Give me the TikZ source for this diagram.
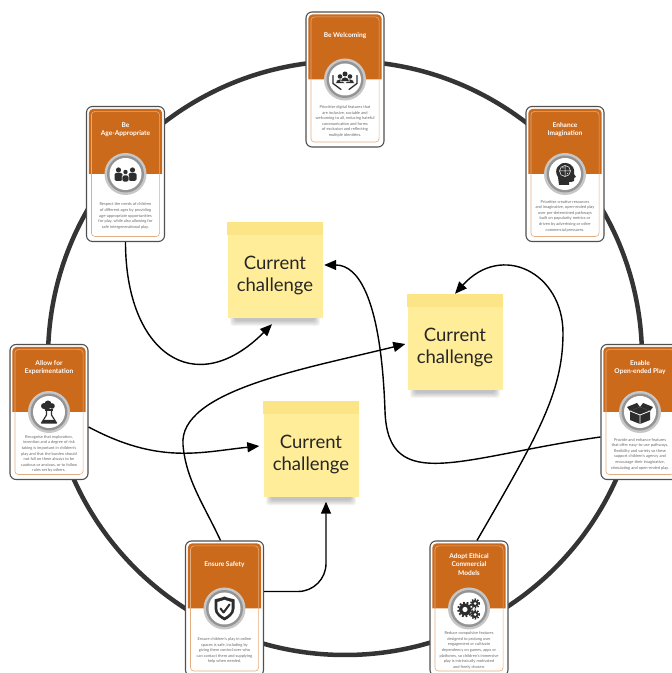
\documentclass[tikz,border=0pt]{standalone}
\usepackage{fontspec}
\setmainfont{Lato}
\usepackage{tikz}
\usetikzlibrary{
    calc,
    arrows.meta
}
\definecolor{cardorange}{RGB}{204,106,28}
\definecolor{cardline}{RGB}{80,80,80}
\definecolor{ringgray}{RGB}{52,52,52}
\definecolor{icongray}{RGB}{45,45,45}
\definecolor{textgray}{RGB}{105,105,105}
\definecolor{stickyfill}{RGB}{255,237,153}
\definecolor{stickytop}{RGB}{252,229,135}
\tikzset{
    >={Triangle[length=12pt,width=10pt]},
    card/.style={draw=cardline, line width=1.1pt, fill=white, rounded corners=6pt,
        minimum width=78pt, minimum height=135pt, inner sep=0pt},
    cardtitle/.style={text=white, font=\fontsize{6.6}{8.3}\selectfont\bfseries, align=center, inner sep=0pt},
    carddesc/.style={text=textgray, font=\fontsize{4}{5.6}\selectfont, align=center, inner sep=0pt},
    sticky/.style={fill=stickyfill, minimum width=95pt, minimum height=96pt, inner sep=0pt},
    stickyshade/.style={black, opacity=0.045, rounded corners=3pt},
    stickytext/.style={font=\fontsize{18.5}{22}\selectfont, align=center, text=black!85, inner sep=0pt},
    link/.style={->, line width=1.4pt}
}

\begin{document}
\begin{tikzpicture}[x=1pt, y=1pt]
        \clip (0,0) rectangle (672,673);
        \draw[ringgray, line width=4.5pt] (345,315) circle (297);

        % principle cards
        \foreach \nm/\cx/\cy in {welcome/345/593.5, age/125.5/499, imag/565/499, exper/49/261,
                open/640/261, safety/224.5/64.5, ethical/469/64.5}{
            \node[card] (\nm) at (\cx,\cy) {};
            \fill[cardorange] ([xshift=3pt]\nm.west) [rounded corners=4pt] -- ([shift={(3pt,-3pt)}]\nm.north west)
                -- ([shift={(-3pt,-3pt)}]\nm.north east) [sharp corners] -- ([xshift=-3pt]\nm.east) -- cycle;
            \draw[cardorange!55!white, line width=0.6pt, rounded corners=3.5pt]
                ([shift={(5.5pt,-5.5pt)}]\nm.north west) rectangle ([shift={(-5.5pt,5.5pt)}]\nm.south east);
            \fill[black!22] (\nm) circle (21);
            \fill[black!42] (\nm) circle (18.5);
            \fill[white] (\nm) circle (16);
        }

        \node[cardtitle] (welcome-title) at ([yshift=-24pt]welcome.north) {Be Welcoming};
        \node[cardtitle] (age-title) at ([yshift=-24pt]age.north) {Be\\Age-Appropriate};
        \node[cardtitle] (imag-title) at ([yshift=-24pt]imag.north) {Enhance\\Imagination};
        \node[cardtitle] (exper-title) at ([yshift=-24pt]exper.north) {Allow for\\Experimentation};
        \node[cardtitle] (open-title) at ([yshift=-24pt]open.north) {Enable\\Open-ended Play};
        \node[cardtitle] (safety-title) at ([yshift=-24pt]safety.north) {Ensure Safety};
        \node[cardtitle] (ethical-title) at ([yshift=-24pt]ethical.north) {Adopt Ethical\\Commercial\\Models};

        \node[carddesc] (welcome-text) at ([yshift=-110pt]welcome.north) {Prioritise digital features that\\are inclusive, sociable and\\welcoming to all, reducing hateful\\communication and forms\\of exclusion and reflecting\\multiple identities.};
        \node[carddesc] (age-text) at ([yshift=-110pt]age.north) {Respect the needs of children\\of different ages by providing\\age-appropriate opportunities\\for play, while also allowing for\\safe intergenerational play.};
        \node[carddesc] (imag-text) at ([yshift=-110pt]imag.north) {Prioritise creative resources\\and imaginative, open-ended play\\over pre-determined pathways\\built on popularity metrics or\\driven by advertising or other\\commercial pressures.};
        \node[carddesc] (exper-text) at ([yshift=-110pt]exper.north) {Recognise that exploration,\\invention and a degree of risk\\taking is important in children's\\play and that the burden should\\not fall on them always to be\\cautious or anxious, or to follow\\rules set by others.};
        \node[carddesc] (open-text) at ([yshift=-110pt]open.north) {Provide and enhance features\\that offer easy-to-use pathways,\\flexibility and variety so these\\support children's agency and\\encourage their imaginative,\\stimulating and open-ended play.};
        \node[carddesc] (safety-text) at ([yshift=-110pt]safety.north) {Ensure children's play in online\\spaces is safe, including by\\giving them control over who\\can contact them and supplying\\help when needed.};
        \node[carddesc] (ethical-text) at ([yshift=-110pt]ethical.north) {Reduce compulsive features\\designed to prolong user\\engagement or cultivate\\dependency on games, apps or\\platforms, so children's immersive\\play is intrinsically motivated\\and freely chosen.};

        % icons
        \begin{scope}[shift={(welcome)}, icongray]
            \fill (-5,3) circle (2.3) (5,3) circle (2.3) (0,5.5) circle (2.5);
            \fill[draw=white, line width=0.5pt] (-9.5,-4) arc[start angle=180, end angle=0, radius=4.5] -- cycle;
            \fill[draw=white, line width=0.5pt] (0.5,-4) arc[start angle=180, end angle=0, radius=4.5] -- cycle;
            \fill[draw=white, line width=0.5pt] (-4.5,-2) arc[start angle=180, end angle=0, radius=4.5] -- cycle;
            \draw[line width=1.3pt, line cap=round, line join=round] (-12,4) -- (-12,-4) -- (-4,-10) (12,4) -- (12,-4) -- (4,-10);
        \end{scope}
        \begin{scope}[shift={(age)}, icongray]
            \fill (-7,4) circle (2.6) (7,4) circle (2.6) (0,2) circle (2.2);
            \fill[rounded corners=1.5pt] (-11,-7) rectangle (-3,1) (3,-7) rectangle (11,1);
            \fill[rounded corners=1.5pt, draw=white, line width=0.6pt] (-3.4,-8) rectangle (3.4,-1);
        \end{scope}
        \begin{scope}[shift={(imag)}, icongray]
            \fill (-6,-11) -- (-7,-3) .. controls (-12,4) and (-6,12) .. (1,11)
                .. controls (8,10) and (10,5) .. (9,0) -- (11,-3) -- (9,-4) -- (9,-7)
                .. controls (8,-8) and (5,-8) .. (4,-8) -- (4,-11) -- cycle;
            \draw[white, line width=0.5pt] (0,3) circle (5.5) (-5,3) -- (5,3) (0,-2) -- (0,8)
                (-3,6) -- (-1,6) (2,0) -- (3,1);
        \end{scope}
        \begin{scope}[shift={(exper)}, icongray]
            \fill (-5,6) circle (3) (-1,8) circle (3.5) (3,6) circle (2.8) (-2,4.5) circle (3);
            \draw[line width=1.2pt, line join=round] (-2.5,2) -- (-2.5,-3) -- (-7.5,-11) -- (7.5,-11) -- (2.5,-3) -- (2.5,2);
            \draw[line width=1.2pt] (-4,2) -- (4,2);
            \fill (-5.6,-8) -- (-7.5,-11) -- (7.5,-11) -- (5.6,-8) -- cycle;
        \end{scope}
        \begin{scope}[shift={(open)}, icongray]
            \fill (0,5) -- (10,1) -- (10,-8) -- (0,-12) -- (-10,-8) -- (-10,1) -- cycle;
            \fill (-10,1) -- (-13,5) -- (-3,9) -- (0,5) -- cycle (10,1) -- (13,5) -- (3,9) -- (0,5) -- cycle;
            \draw[white, line width=0.8pt] (-10,1) -- (0,-3) -- (10,1) (0,-3) -- (0,-12);
        \end{scope}
        \begin{scope}[shift={(safety)}, icongray]
            \fill (0,12) .. controls (4,10) and (8,10) .. (10,9) -- (10,0) .. controls (10,-6) and (4,-10) .. (0,-12)
                .. controls (-4,-10) and (-10,-6) .. (-10,0) -- (-10,9) .. controls (-8,10) and (-4,10) .. cycle;
            \fill[white, scale=0.72] (0,12) .. controls (4,10) and (8,10) .. (10,9) -- (10,0) .. controls (10,-6) and (4,-10) .. (0,-12)
                .. controls (-4,-10) and (-10,-6) .. (-10,0) -- (-10,9) .. controls (-8,10) and (-4,10) .. cycle;
            \draw[line width=2pt, line cap=round, line join=round] (-4,0) -- (-1,-4) -- (5,4);
        \end{scope}
        \begin{scope}[shift={(ethical)}, icongray]
            \fill (-4,-1) circle (6);
            \draw[line width=2pt, dash pattern=on 1.8pt off 1.8pt] (-4,-1) circle (6.8);
            \fill[white] (-4,-1) circle (2.6);
            \fill (6,5) circle (3.6) (6,-6) circle (3.6);
            \draw[line width=1.6pt, dash pattern=on 1.4pt off 1.4pt] (6,5) circle (4.3) (6,-6) circle (4.3);
            \fill[white] (6,5) circle (1.5) (6,-6) circle (1.5);
        \end{scope}

        % sticky notes
        \foreach \nm/\cx/\cy in {s1/275/403, s2/455/331, s3/311/223.5}{
            \foreach \k in {0,...,5}
                \fill[stickyshade] (\cx-45+\k,\cy-10) rectangle (\cx+45-\k,\cy-56+\k);
            \node[sticky] (\nm) at (\cx,\cy) {};
            \fill[stickytop] (\nm.north west) rectangle ([yshift=-13pt]\nm.north east);
        }
        \node[stickytext] (s1-text) at ([yshift=-5pt]s1.center) {Current\\challenge};
        \node[stickytext] (s2-text) at ([yshift=-5pt]s2.center) {Current\\challenge};
        \node[stickytext] (s3-text) at ([yshift=-5pt]s3.center) {Current\\challenge};

        % links
        \coordinate (c2) at (385,262);
        \coordinate (c4) at (183,228);
        \coordinate (c6) at (563,340);
        \draw[link] (age.south) to[out=-90, in=-135, out distance=110pt, in distance=110pt] ([shift={(-3pt,-6pt)}]s1.south);
        \draw[link] ([yshift=-25pt]open.west) to[out=188, in=-88, out distance=140pt, in distance=85pt] (c2)
            to[out=92, in=0, out distance=110pt, in distance=35pt] ([shift={(1.5pt,5pt)}]s1.east);
        \draw[link] ([yshift=-15pt]exper.east) to[out=-28, in=186, out distance=80pt, in distance=60pt] ([shift={(-4pt,3.5pt)}]s3.west);
        \draw[link] ([xshift=-4pt]safety.north) to[out=115, in=-85, out distance=40pt, in distance=35pt] (c4)
            to[out=95, in=194, out distance=55pt, in distance=100pt] ([shift={(-2pt,-2pt)}]s2.west);
        \draw[link, rounded corners=28pt] ([yshift=17pt]safety.east) -| ([shift={(15pt,-4pt)}]s3.south);
        \draw[link] ([xshift=8pt]ethical.north) to[out=60, in=-90, out distance=120pt, in distance=60pt] (c6)
            to[out=90, in=48, out distance=60pt, in distance=70pt] (s2.north);
    \end{tikzpicture}
\end{document}
